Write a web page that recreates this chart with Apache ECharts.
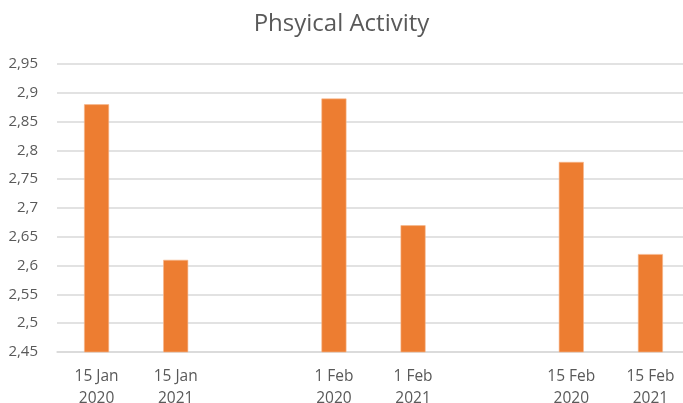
<!DOCTYPE html>
<html>
<head>
<meta charset="utf-8">
<script src="https://cdn.jsdelivr.net/npm/echarts@6/dist/echarts.min.js"></script>
<style>
  html, body { margin: 0; padding: 0; background: #fff; }
  #chart { width: 683px; height: 403px; }
</style>
</head>
<body>
<div id="chart"></div>
<script>
// categories (empty slots make the gaps between the dates)
var categories = ['15 Jan\n2020', '15 Jan\n2021', '', '1 Feb\n2020', '1 Feb\n2021', '', '15 Feb\n2020', '15 Feb\n2021'];
var values = [2.88, 2.61, '-', 2.89, 2.67, '-', 2.78, 2.62];
var yMin = 2.45, yMax = 2.95, yStep = 0.05;

var font = '"Open Sans", "Liberation Sans", sans-serif';
var chart = echarts.init(document.getElementById('chart'));
chart.setOption({
    animation: false,
    title: {
        text: 'Phsyical Activity',
        left: 'center',
        top: 7,
        textStyle: { fontFamily: font, fontSize: 24, fontWeight: 'normal', color: '#595959' }
    },
    grid: { left: 57, right: -7, top: 64, bottom: 51, containLabel: false, outerBoundsMode: 'none' },
    xAxis: {
        type: 'category',
        data: categories,
        axisLine: { lineStyle: { color: '#d9d9d9', width: 1.5 } },
        axisTick: { show: false },
        axisLabel: {
            fontFamily: font, fontSize: 15.5, color: '#595959',
            lineHeight: 22, margin: 14, interval: 0
        }
    },
    yAxis: {
        type: 'value',
        min: yMin,
        max: yMax,
        interval: yStep,
        axisLine: { show: false },
        axisTick: { show: false },
        splitLine: { lineStyle: { color: '#d9d9d9', width: 1.5 } },
        axisLabel: {
            fontFamily: font, fontSize: 15, color: '#595959', margin: 19,
            formatter: function (v) { return String(+v.toFixed(2)).replace('.', ','); }
        }
    },
    series: [{
        type: 'bar',
        data: values,
        barWidth: 25,
        itemStyle: { color: '#ED7D31', borderColor: '#f7b98f', borderWidth: 0.6 }
    }]
});
</script>
</body>
</html>
